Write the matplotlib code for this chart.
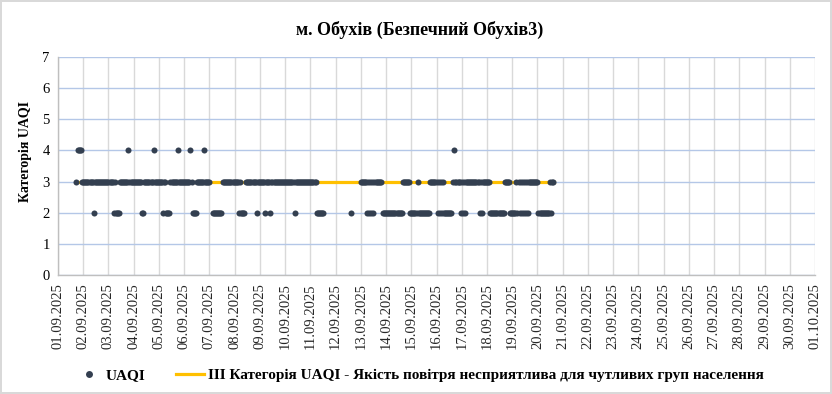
import numpy as np
import pandas as pd
import matplotlib
matplotlib.use("Agg")
import matplotlib.pyplot as plt
import matplotlib.dates as mdates
from matplotlib.lines import Line2D

# ---------------- data ----------------
title = "м. Обухів (Безпечний Обухів3)"
y_label = "Категорія UAQI"
series_label = "UAQI"
line_label = "III Категорія UAQI - Якість повітря несприятлива для чутливих груп населення"

start_time = "2025-09-01 00:00"
# hourly UAQI category as runs (category, number of hours); 0 = no data
run_cat = [0, 3, 0, 4, 3, 2, 3, 2, 3, 2, 3, 4, 3, 2, 3, 4, 3, 2, 3, 2, 3, 4, 3, 4, 3, 2, 3, 4, 3,
           0, 2, 0, 3, 2, 3, 2, 0, 3, 2, 3, 2, 3, 2, 3, 2, 3, 2, 0, 2, 0,
           3, 2, 3, 2, 3, 2, 3, 2, 3, 0, 2, 3, 2, 3, 2, 3, 2, 3, 2, 3, 2, 3, 2, 0,
           3, 4, 3, 2, 3, 2, 3, 2, 3, 3, 2, 3, 2, 3, 2, 3, 2,
           3, 2, 3, 2, 3, 2, 3, 2, 3, 2, 3, 2, 3, 2, 3, 2, 3]
run_len = [17, 1, 1, 4, 11, 1, 18, 1, 1, 4, 8, 1, 12, 2, 9, 1, 8, 1, 2, 4, 7, 1, 11, 1, 1, 4, 7, 1, 5,
           2, 9, 1, 15, 1, 1, 4, 1, 10, 1, 7, 1, 4, 1, 22, 1, 20, 7, 26, 1, 8,
           6, 1, 1, 1, 1, 1, 1, 1, 7, 1, 19, 7, 7, 1, 11, 7, 1, 1, 1, 1, 1, 1, 8, 1,
           1, 1, 5, 1, 1, 1, 1, 1, 1, 12, 1, 1, 1, 7, 14, 5, 6,
           1, 1, 1, 1, 1, 1, 1, 1, 1, 1, 1, 1, 9, 11, 1, 1, 2]

line_dates = ["2025-09-01 18:00", "2025-09-20 16:00"]
line_values = [3, 3]

x_start = "2025-09-01"
x_end = "2025-10-01"
y_ticks = [0, 1, 2, 3, 4, 5, 6, 7]

# ---------------- build ----------------
hourly = np.repeat(np.array(run_cat, dtype=float), run_len)
times = pd.date_range(start_time, periods=len(hourly), freq="h")
mask = hourly > 0
pts_t = times[mask]
pts_v = hourly[mask]

serif = ["Liberation Serif", "DejaVu Serif"]
plt.rcParams["font.family"] = serif

fig = plt.figure(figsize=(8.32, 3.94), dpi=100)
fig.patch.set_facecolor("white")
fig.patch.set_edgecolor("#D9D9D9")
fig.patch.set_linewidth(1.5)

ax = fig.add_axes([58 / 832, 1 - 275 / 394, (815 - 58) / 832, (275 - 57) / 394])

ax.plot(pd.to_datetime(line_dates), line_values, color="#FFC000", lw=2.3, zorder=2)
ax.scatter(pts_t, pts_v, s=19, color="#333F50", zorder=3, linewidths=0)

ax.set_xlim(pd.Timestamp(x_start), pd.Timestamp(x_end))
ax.set_ylim(0, 7)
ax.set_yticks(y_ticks)
ax.xaxis.set_major_locator(mdates.DayLocator())
ax.xaxis.set_major_formatter(mdates.DateFormatter("%d.%m.%Y"))
plt.setp(ax.get_xticklabels(), rotation=90, fontsize=10.5, color="#262626")
plt.setp(ax.get_yticklabels(), fontsize=10.5, color="#000000")
ax.tick_params(axis="both", length=0, pad=6)

ax.yaxis.grid(True, color="#B4C7E7", lw=1)
ax.xaxis.grid(True, color="#D9D9D9", lw=1)
ax.set_axisbelow(True)
for s in ["top", "right"]:
    ax.spines[s].set_visible(False)
for s in ["left", "bottom"]:
    ax.spines[s].set_color("#BFBFBF")
    ax.spines[s].set_linewidth(1)

fig.text(25 / 832, 1 - 151 / 394, y_label, rotation=90, ha="center", va="center",
         fontsize=10, fontweight="bold")
fig.text(420 / 832, 1 - 30 / 394, title, ha="center", va="center", fontsize=13, fontweight="bold")

handles = [
    Line2D([0], [0], marker="o", color="none", markerfacecolor="#333F50", markeredgecolor="none", markersize=5),
    Line2D([0], [0], color="#FFC000", lw=2.3),
]
fig.legend(handles, [series_label, line_label], loc="center", bbox_to_anchor=(419 / 832, 1 - 375 / 394),
           ncol=2, frameon=False, prop={"family": serif, "weight": "bold", "size": 11},
           handlelength=1.85, columnspacing=2.0, handletextpad=0.2)

fig.savefig("out.png", dpi=100, facecolor=fig.get_facecolor(), edgecolor=fig.get_edgecolor())
